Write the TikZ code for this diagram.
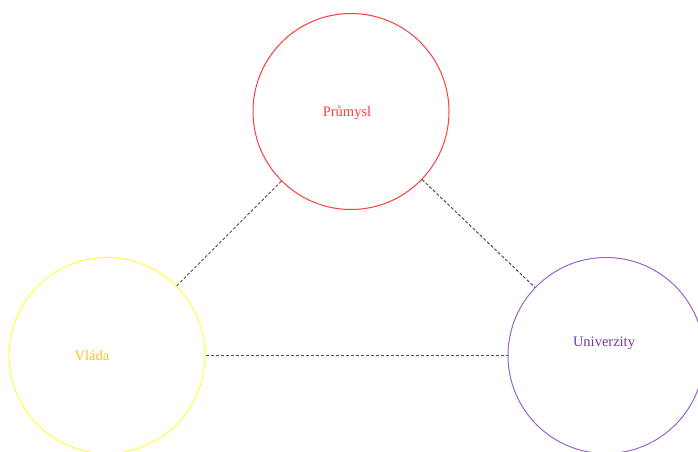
\documentclass[tikz,border=0pt]{standalone}
\usepackage{fontspec}
\setmainfont{Liberation Serif}
\usepackage{tikz}
\usetikzlibrary{calc}
\usepackage{xcolor}
\definecolor{prured}{HTML}{FF3B3B}
\definecolor{vlyellow}{HTML}{FFFF40}
\definecolor{vlgold}{HTML}{FFC21A}
\definecolor{unipurple}{HTML}{9A62C8}
\definecolor{unitext}{HTML}{7438A8}
\tikzset{
  sector/.style={circle, draw, line width=1pt, minimum size=196pt, inner sep=0pt},
  sectorname/.style={font=\fontsize{14.5}{17}\selectfont, inner sep=0pt},
  link/.style={draw=black!70, line width=1pt, dash pattern=on 3pt off 2pt}
}

\begin{document}
\begin{tikzpicture}[x=1pt,y=1pt]
\useasboundingbox (0,0) rectangle (698,451);
\node [sector, draw=prured] (prumysl) at (351,339.5) {};
\node [sector, draw=vlyellow] (vlada) at (107,95.5) {};
\node [sector, draw=unipurple] (univerzity) at (606,95.5) {};
\node [sectorname, prured] (prumyslname) at ($(prumysl)+(-4,-1.5)$) {Průmysl};
\node [sectorname, vlgold] (vladaname) at ($(vlada)+(-15,-0.5)$) {Vláda};
\node [sectorname, unitext] (univerzityname) at ($(univerzity)+(-2,12)$) {Univerzity};
\draw [link] (prumysl) -- (vlada);
\draw [link] (prumysl) -- (univerzity);
\draw [link] (vlada) -- (univerzity);
\end{tikzpicture}
\end{document}
